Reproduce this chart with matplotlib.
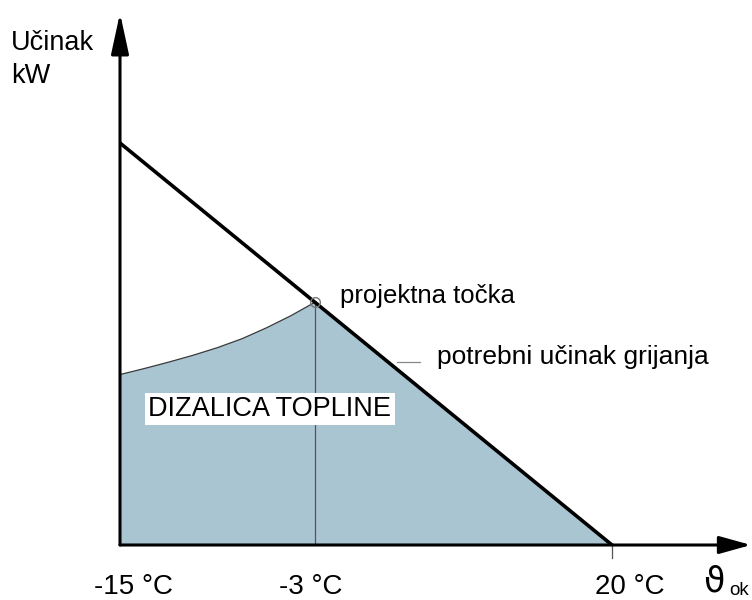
import numpy as np
import matplotlib
matplotlib.use("Agg")
import matplotlib.pyplot as plt

# ---- data ----
tick_temps = [-15, -3, 20]
tick_labels = ["-15 °C", "-3 °C", "20 °C"]
heating_temps = [-15, 20]          # potrebni učinak grijanja
heating_kw = [10.0, 0.0]
hp_temps = [-15, -13.5, -12, -10.5, -9, -7.5, -6, -4.5, -3]   # dizalica topline
hp_kw = [4.24, 4.39, 4.55, 4.72, 4.91, 5.13, 5.40, 5.70, 6.04]
design_temp = -3
design_kw = 6.04

plt.rcParams['font.family'] = ['Liberation Sans', 'DejaVu Sans']

fig = plt.figure(figsize=(7.52, 6.0), dpi=100)
W, H = 752, 600
x0, y0 = 120, 545          # origin in pixels
xr, yt = 751, 13
ax = fig.add_axes([x0 / W, (H - y0) / H, (xr - x0) / W, (y0 - yt) / H])

# schematic (piecewise-linear) temperature axis
s1, s2 = 16.25, 12.913
def fwd(t):
    t = np.asarray(t, dtype=float)
    return np.where(t <= -3, (t + 15) * s1, 195 + (t + 3) * s2)
def inv(u):
    u = np.asarray(u, dtype=float)
    return np.where(u <= 195, u / s1 - 15, -3 + (u - 195) / s2)
ax.set_xscale('function', functions=(fwd, inv))
ax.set_xlim(-15, float(inv(xr - x0)))
ax.set_ylim(0, (y0 - yt) / 40.2)
ax.axis('off')

# shaded heat-pump area
poly_x = list(hp_temps) + [heating_temps[1], hp_temps[0]]
poly_y = list(hp_kw) + [heating_kw[1], 0]
ax.fill(poly_x, poly_y, color='#aac5d2', lw=0, zorder=1)

# heat pump curve
ax.plot(hp_temps, hp_kw, color='#3a3a3a', lw=0.9, zorder=2, solid_joinstyle='round')
# vertical line at design point
ax.plot([design_temp, design_temp], [0, design_kw], color='#555555', lw=0.9, zorder=2)
# heating demand line
ax.plot(heating_temps, heating_kw, color='black', lw=2.6, zorder=3, solid_capstyle='butt')
# design point marker
ax.plot([design_temp], [design_kw], marker='o', ms=7, mfc='none', mec='#777777',
        mew=1.0, zorder=4)

# axes with arrows
ax.annotate('', xy=(0, 1), xytext=(0, 0), xycoords='axes fraction',
            arrowprops=dict(arrowstyle='-|>,head_length=1.25,head_width=0.27',
                            mutation_scale=20, lw=2.2, color='black',
                            shrinkA=0, shrinkB=0),
            annotation_clip=False, zorder=5)
ax.annotate('', xy=(1, 0), xytext=(0, 0), xycoords='axes fraction',
            arrowprops=dict(arrowstyle='-|>,head_length=0.97,head_width=0.27',
                            mutation_scale=20, lw=2.2, color='black',
                            shrinkA=0, shrinkB=0),
            annotation_clip=False, zorder=5)

# small tick at 20 °C
ax.plot([20, 20], [0, -13 / 40.2], color='#555555', lw=0.9, clip_on=False)

# tick labels
offsets = [13, -4, 18]
for t, lab, dx in zip(tick_temps, tick_labels, offsets):
    ax.annotate(lab, xy=(t, 0), xytext=(dx, -49), textcoords='offset pixels',
                ha='center', va='baseline', fontsize=20,
                annotation_clip=False)

# x axis symbol
fig.text(703 / W, 1 - 592 / H, 'ϑ', fontsize=25, family=['DejaVu Sans'],
         ha='left', va='baseline')
fig.text(729 / W, 1 - 595 / H, 'ok', fontsize=13.5, ha='left', va='baseline')

# y axis label
fig.text(11 / W, 1 - 50 / H, 'Učinak', fontsize=19.5, va='baseline')
fig.text(11 / W, 1 - 83 / H, 'kW', fontsize=19.5, va='baseline')

# annotations
ax.text(-1.06, 6.19, 'projektna točka', fontsize=18.5, ha='left', va='center')
ax.plot([3.35, 5.13], [4.55, 4.55], color='#888888', lw=0.9)
ax.text(6.45, 4.68, 'potrebni učinak grijanja', fontsize=19, ha='left', va='center')
ax.text(-5.77, 3.38, 'DIZALICA TOPLINE', fontsize=19.5, ha='center', va='center',
        bbox=dict(boxstyle='square,pad=0.12', fc='white', ec='none'), zorder=6)

fig.savefig('out.png', dpi=100)
